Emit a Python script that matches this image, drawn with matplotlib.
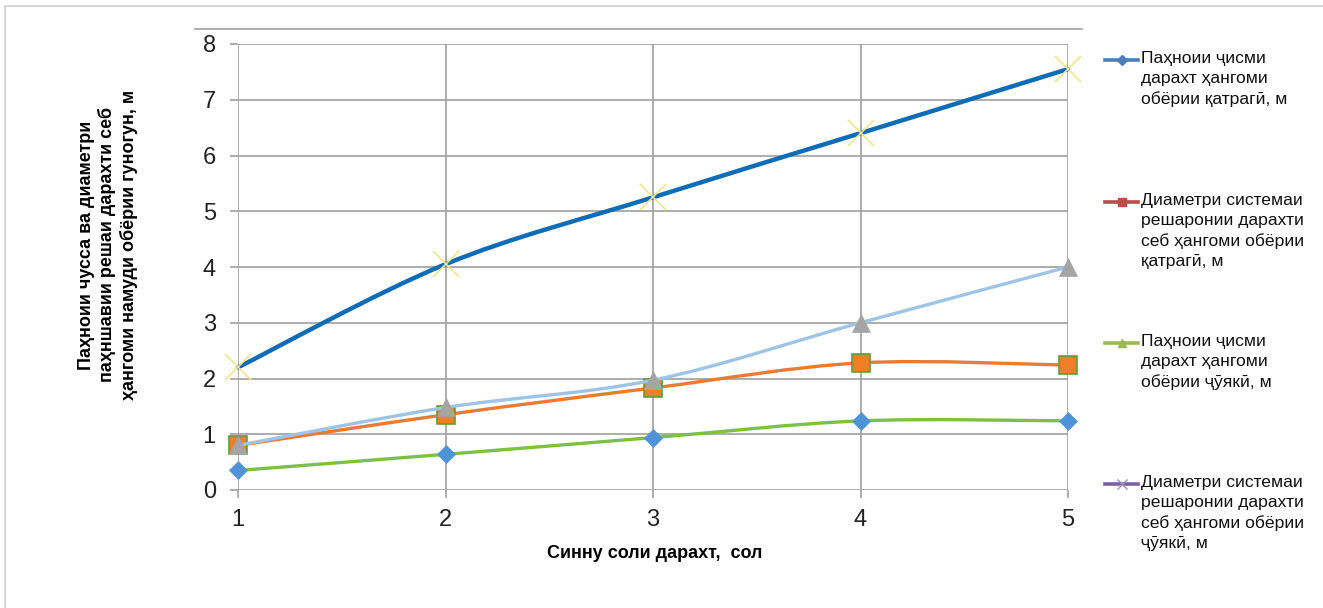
import numpy as np
import matplotlib.pyplot as plt
from matplotlib.path import Path
from matplotlib.patches import PathPatch, Rectangle
from matplotlib.lines import Line2D

plt.rcParams['font.family'] = ['Liberation Sans', 'DejaVu Sans']

# Синну соли дарахт, сол
years = [1, 2, 3, 4, 5]

# Паҳноии ҷисми дарахт, м (хатҳои ҳамвор)
crown_drip = [2.2, 4.05, 5.25, 6.4, 7.55]
crown_surface = [0.8, 1.48, 1.97, 3.0, 4.0]
roots_drip = [0.8, 1.35, 1.83, 2.28, 2.24]
roots_surface = [0.35, 0.64, 0.94, 1.24, 1.24]

legend_labels = [
    "Паҳноии ҷисми\nдарахт ҳангоми\nобёрии қатрагӣ, м",
    "Диаметри системаи\nрешаронии дарахти\nсеб ҳангоми обёрии\nқатрагӣ, м",
    "Паҳноии ҷисми\nдарахт ҳангоми\nобёрии ҷӯякӣ, м",
    "Диаметри системаи\nрешаронии дарахти\nсеб ҳангоми обёрии\nҷӯякӣ, м",
]


def smooth_path(x, y):
    # Catmull-Rom сегментҳо ҳамчун Bezier-и кубӣ
    pts = np.column_stack([x, y]).astype(float)
    ext = np.vstack([pts[0], pts, pts[-1]])
    verts = [pts[0]]
    codes = [Path.MOVETO]
    for i in range(1, len(ext) - 2):
        p0, p1, p2, p3 = ext[i - 1], ext[i], ext[i + 1], ext[i + 2]
        verts += [p1 + (p2 - p0) / 6, p2 - (p3 - p1) / 6, p2]
        codes += [Path.CURVE4] * 3
    return Path(verts, codes)


def add_series(ax, y, color, lw, marker, ms, mfc, mec, mew, z):
    ax.add_patch(PathPatch(smooth_path(years, y), fill=False, edgecolor=color,
                           lw=lw, zorder=z, capstyle='round', clip_on=False))
    ax.plot(years, y, ls='none', marker=marker, ms=ms, mfc=mfc, mec=mec,
            mew=mew, zorder=z + 0.5, clip_on=False)


fig = plt.figure(figsize=(13.23, 6.08), dpi=100)
ax = fig.add_axes([238 / 1323, 1 - 490 / 608, (1068 - 238) / 1323, (490 - 44) / 608])

add_series(ax, roots_surface, '#7DC142', 2.4, 'D', 9.5, '#4E93D6', '#4E93D6', 0.5, 3)
add_series(ax, roots_drip, '#EC7A30', 2.4, 's', 12.5, '#F07E26', '#5E9E3A', 1.2, 4)
add_series(ax, crown_surface, '#9DC3E6', 2.4, '^', 13, '#A5A5A5', '#A5A5A5', 0.5, 5)
add_series(ax, crown_drip, '#0F6CB6', 3.2, 'x', 19, '#F3E38C', '#F3E38C', 1.2, 6)

ax.set_xlim(1, 5)
ax.set_ylim(0, 8)
ax.set_xticks(years)
ax.set_yticks(range(0, 9))
ax.grid(True, color='#A6A6A6', lw=1.3)
ax.set_axisbelow(True)
for s in ax.spines.values():
    s.set_visible(False)
ax.tick_params(axis='both', length=6, width=1.3, color='#A6A6A6',
               labelsize=17, labelcolor='#222222')
ax.tick_params(axis='y', pad=10)
ax.tick_params(axis='x', pad=8)

fig.text(108 / 1323, 1 - 245 / 608,
         "Паҳноии чусса ва диаметри\nпаҳншавии решаи дарахти себ\nҳангоми намуди обёрии гуногун, м",
         rotation=90, ha='center', va='center', fontsize=13, fontweight='bold',
         multialignment='center', linespacing=1.22)
fig.text(655 / 1323, 1 - 553 / 608, "Синну соли дарахт,  сол",
         ha='center', va='center', fontsize=13, fontweight='bold')

# Легенда
leg_styles = [
    ('#4A7EBB', 'D', 5, '#4A7EBB'),
    ('#BE4B48', 's', 6, '#BE4B48'),
    ('#98B954', '^', 6, '#98B954'),
    ('#7D60A0', 'x', 7, '#A38DC0'),
]
leg_y = [60, 202, 343, 484]
for (c, m, ms, mc), yl, lab in zip(leg_styles, leg_y, legend_labels):
    yf = 1 - yl / 608
    fig.add_artist(Line2D([1105 / 1323, 1138 / 1323], [yf, yf], color=c, lw=2.6,
                          transform=fig.transFigure))
    fig.add_artist(Line2D([1121.5 / 1323], [yf], ls='none', marker=m, ms=ms,
                          mfc=mc, mec=mc, transform=fig.transFigure))
    fig.text(1141 / 1323, 1 - (yl - 9) / 608, lab, ha='left', va='top',
             fontsize=12.6, linespacing=1.42, color='#111111')

# Рамка ва хати боло
fig.add_artist(Rectangle((5 / 1323, -0.1), 1.1, 1 - 6 / 608 + 0.1,
                         transform=fig.transFigure, fill=False,
                         edgecolor='#D0D0D0', lw=1.2))
fig.add_artist(Line2D([195 / 1323, 1082 / 1323], [1 - 29 / 608, 1 - 29 / 608],
                      color='#A6A6A6', lw=1.3, transform=fig.transFigure))

fig.savefig('out.png', dpi=100, facecolor='white')
